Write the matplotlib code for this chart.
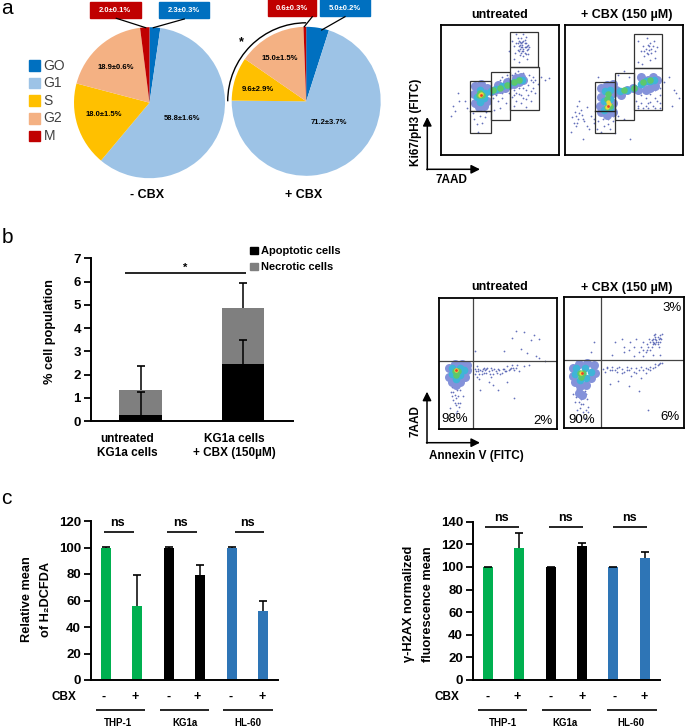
import matplotlib
matplotlib.use("Agg")
import matplotlib.pyplot as plt
from matplotlib.patches import Arc, Rectangle

W, H = 685, 728
plt.rcParams['font.family'] = ['Liberation Sans', 'DejaVu Sans']
plt.rcParams['font.weight'] = 'bold'

# panel a, pies
phases = ['GO', 'G1', 'S', 'G2', 'M']
phase_colors = ['#0070C0', '#9DC3E6', '#FFC000', '#F4B183', '#C00000']
pie_minus = [2.3, 58.8, 18.0, 18.9, 2.0]
pie_plus = [5.0, 71.2, 9.6, 15.0, 0.6]
pie_minus_txt = ['2.3±0.3%', '58.8±1.6%', '18.0±1.5%', '18.9±0.6%', '2.0±0.1%']
pie_plus_txt = ['5.0±0.2%', '71.2±3.7%', '9.6±2.9%', '15.0±1.5%', '0.6±0.3%']

# panel b, stacked bars
b_groups = ['untreated\nKG1a cells', 'KG1a cells\n+ CBX (150µM)']
apoptotic = [0.25, 2.45]
necrotic = [1.08, 2.42]
apoptotic_err = [1.0, 1.02]
total_err = [1.02, 1.05]

# panel c, bars
cell_lines = ['THP-1', 'KG1a', 'HL-60']
cbx_signs = ['-', '+', '-', '+', '-', '+']
c_colors = ['#00B050', '#00B050', '#000000', '#000000', '#2E75B6', '#2E75B6']
ros_mean = [100, 55.5, 100, 79, 100, 52]
ros_err = [0.3, 23.5, 0.3, 8, 0.3, 8]
h2ax_mean = [100, 116.5, 100, 118.5, 100, 107.5]
h2ax_err = [0.3, 13.5, 0.3, 2.5, 0.3, 5.5]

# flow plots, read in percent of each frame
ki_unt_dots = [(60,88),(62,84),(63,79),(64,86),(65,90),(65,81),(66,84),(67,77),(67,87),(68,83),(68,90),(69,80),
    (69,85),(70,88),(70,76),(71,83),(71,79),(72,86),(72,91),(73,81),(73,74),(74,85),(74,78),(75,83),(62,74),(66,72),
    (58,80),(70,93),(64,93),(66,80),(68,86),(70,82),(72,78),(66,88),(60,45),(62,50),(64,42),(66,47),(68,40),(70,44),
    (72,50),(74,46),(76,42),(78,52),(80,48),(82,55),(85,60),(88,58),(92,59),(75,62),(78,60),(62,38),(72,37),(55,40),
    (52,44),(48,42),(50,58),(56,62),(65,65),(28,28),(30,24),(33,30),(35,25),(37,29),(31,18),(27,32),(38,33),(8,30),
    (12,34),(15,42),(14,48),(10,38),(20,42),(22,36),(45,35),(50,36),(64,48),(68,46),(72,43),(76,49),(70,63),(66,61),
    (69,87),(67,82),(71,86),(65,86),(73,84),(68,79),(72,83),(70,80),(74,82),(67,85),(69,83),(71,89),(58,48),(62,46),
    (66,52),(70,52),(74,54),(78,56),(80,58),(76,58),(44,44),(47,46),(52,48),(56,50),(60,62),(63,63),(57,59),(52,60)]
ki_unt_blue = [(29,40),(32,37),(36,38),(39,42),(28,47),(29,53),(34,55),(39,52),(33,46),(42,49),(46,50),(50,51),(54,52),
    (58,54),(62,55),(66,56),(70,58),(48,54),(56,56),(64,59),(68,60)]
ki_unt_cyan = [(30,45),(33,41),(36,44),(33,50),(37,48),(42,49),(47,51),(52,53),(57,54),(62,56),(66,58),(69,58)]
ki_unt_green = [(32,46),(35,46),(33,48),(44,50),(50,52),(56,54),(62,56),(66,58)]
ki_unt_yellow = [(33,46),(34,47)]
ki_unt_red = [(33.5,46)]

ki_cbx_dots = [(62,88),(64,80),(66,84),(67,76),(68,82),(69,90),(70,78),(70,85),(71,81),(72,73),(72,86),(73,79),(74,84),
    (75,88),(76,80),(76,75),(62,72),(65,70),(78,83),(10,38),(8,33),(11,28),(7,25),(13,35),(6,29),(14,31),(9,22),(12,42),
    (16,26),(18,37),(20,20),(22,30),(18,22),(24,25),(27,20),(30,18),(33,22),(36,24),(38,20),(40,26),(45,30),(50,28),
    (62,38),(66,36),(70,40),(74,38),(78,42),(80,36),(64,46),(68,44),(72,47),(76,50),(80,52),(84,56),(88,60),(92,50),
    (94,48),(96,44),(50,65),(54,60),(45,62),(42,17),(30,45),(28,60),(55,12),(5,18),(15,12),(90,38),
    (60,42),(64,40),(68,38),(72,41),(76,44),(80,46),(62,36),(70,36),(76,36),(80,40),(9,30),(12,32),(10,25),(15,28),
    (24,28),(28,26),(32,28),(36,28),(40,30),(71,84),(69,79),(73,82),(67,80)]
ki_cbx_blue = [(30,33),(35,31),(40,33),(29,38),(40,40),(30,45),(40,48),(30,52),(35,54),(40,55),(43,50),(47,46),(52,50),
    (57,52),(62,50),(66,56),(70,58),(74,60),(78,58),(68,50),(72,52),(76,53),(64,60)]
ki_cbx_cyan = [(33,35),(38,36),(33,42),(38,43),(34,49),(38,50),(46,49),(52,50),(58,52),(64,55),(68,57),(72,57),(75,58)]
ki_cbx_green = [(35,37),(38,38),(35,43),(36,47),(50,50),(58,52),(66,56),(72,58)]
ki_cbx_yellow = [(35,37),(37,39),(36,41)]
ki_cbx_red = [(36,37.5)]

an_unt_dots = [(65,75),(62,70),(72,74),(78,68),(81,72),(85,69),(30,60),(55,60),(70,61),(75,58),(82,56),(85,54),(90,52),
    (32,48),(36,42),(40,46),(44,40),(48,44),(52,42),(56,44),(60,46),(64,45),(68,44),(72,48),(76,49),(46,34),(50,30),
    (10,28),(12,22),(14,18),(16,25),(18,20),(15,14),(9,16),(18,30),(11,32),(17,35),(13,26),(20,25),(58,36),(64,24),
    (35,30),(42,36),(34,38),(38,47),(44,47),(50,46),(54,46),(58,48),(62,49),(66,49),
    (30,46),(30,42),(31,44),(32,40),(33,46),(33,44),(34,42),(35,45),(36,44),(37,46),(38,43),(39,45),(40,43),(41,47),
    (42,44),(43,42),(45,45),(46,42),(47,46),(49,43),(51,45),(53,43),(55,46),(57,44),(59,45),(61,47),(63,47),(65,47),
    (12,28),(15,30),(14,24),(16,20),(13,20),(11,25),(17,17),(14,12),(16,32)]
an_unt_blue = [(8,40),(11,36),(14,34),(18,36),(22,40),(24,45),(8,47),(13,50),(19,50),(24,49)]
an_unt_cyan = [(11,42),(14,38),(18,41),(11,47),(18,47),(21,45)]
an_unt_green = [(13,44),(16,44),(14,41)]
an_unt_yellow = [(14,45)]
an_unt_red = [(14,45)]

an_cbx_dots = [(70,62),(72,66),(74,68),(76,64),(78,70),(80,66),(82,72),(75,71),(77,66),(79,62),(72,60),(68,58),(64,62),
    (60,68),(55,66),(48,68),(42,66),(25,66),(22,58),(40,56),(50,58),(58,55),(66,55),(74,56),(80,56),(36,47),(40,44),
    (44,46),(48,42),(52,44),(56,40),(60,42),(64,38),(68,42),(72,44),(76,47),(79,49),(82,50),(45,36),(54,32),(62,28),
    (38,34),(70,14),(12,25),(14,18),(16,12),(11,30),(17,28),(9,20),(19,22),(13,15),(20,16),(7,26),(17,8),(14,22),
    (74,66),(76,68),(78,66),(80,69),(76,72),(73,62),(69,64),(66,66),
    (32,45),(34,43),(36,46),(38,44),(40,47),(42,44),(44,43),(46,47),(48,45),(50,43),(52,47),(54,44),(56,46),(58,43),
    (60,46),(62,44),(64,47),(66,44),(68,46),(70,45),(72,47),(74,46),(76,49),(78,48),(80,50),(77,67),(79,68),(75,65),
    (73,67),(81,68),(78,64),(76,70),(74,64),(80,71),(71,68),(69,60),(66,60),(62,58),(58,62),(54,60),(50,62),
    (10,24),(12,20),(15,24),(18,26),(14,28),(16,18),(13,10),(11,14),(18,14),(20,12)]
an_cbx_blue = [(7,40),(9,35),(13,32),(18,33),(22,38),(26,42),(7,46),(12,49),(19,50),(25,48),(12,27),(15,25)]
an_cbx_cyan = [(9,41),(13,37),(18,38),(10,46),(17,46),(22,43)]
an_cbx_green = [(13,42),(16,42),(14,39)]
an_cbx_yellow = [(14,42)]
an_cbx_red = [(14.5,42)]

ki_unt_gates = [(24.7,16.7,17.6,40.3),(42.3,26.7,16.5,37.6),(58.8,34.4,24.4,33.7),(58.8,68.1,23.9,26.9)]
ki_cbx_gates = [(25.4,16.7,17,39.6),(41.8,27,16.7,36),(58.5,34.4,23.7,32.4),(58.5,66.8,23.1,26.5)]


def px_axes(left, top, right, bottom):
    return fig.add_axes([left / W, 1 - bottom / H, (right - left) / W, (bottom - top) / H])


def flow_panel(box, dots, blue, cyan, green, yellow, red):
    ax = px_axes(*box)
    ax.set_xlim(0, 100)
    ax.set_ylim(0, 100)
    ax.set_xticks([])
    ax.set_yticks([])
    ax.scatter(*zip(*dots), s=1.6, color='#3f4eaa', alpha=0.8, linewidths=0)
    ax.scatter(*zip(*blue), s=42, color='#8492da', linewidths=0)
    ax.scatter(*zip(*cyan), s=30, color='#3fb4d8', linewidths=0)
    ax.scatter(*zip(*green), s=22, color='#5cc86c', linewidths=0)
    ax.scatter(*zip(*yellow), s=10, color='#f2d83c', linewidths=0)
    ax.scatter(*zip(*red), s=4, color='#e8402a', linewidths=0)
    for s in ax.spines.values():
        s.set_linewidth(1.3)
    return ax


def bar_panel(box, means, errs, ymax, step):
    ax = px_axes(*box)
    xs = range(len(means))
    ax.bar(xs, means, width=0.32, color=c_colors)
    tops = [m + e for m, e in zip(means, errs)]
    ax.vlines(xs, means, tops, color='black', linewidth=1.1)
    ax.scatter(xs, tops, marker='_', s=30, color='black', linewidths=1.2)
    ax.set_xlim(-0.487, 5.487)
    ax.set_ylim(0, ymax)
    ax.set_yticks(range(0, ymax + 1, step))
    ax.set_xticks([])
    ax.tick_params(axis='y', length=5, width=1.3, labelsize=9.5, pad=2)
    ax.spines[['top', 'right']].set_visible(False)
    ax.spines[['left', 'bottom']].set_linewidth(1.4)
    return ax


fig = plt.figure(figsize=(W / 100, H / 100), dpi=100)

# pies
for box, vals in [((74, 27.2, 225, 178.2), pie_minus), ((231.7, 26.8, 380.7, 175.8), pie_plus)]:
    ax = px_axes(*box)
    ax.pie(vals, colors=phase_colors, startangle=90, counterclock=False, radius=1)
    ax.set_xlim(-1, 1)
    ax.set_ylim(-1, 1)

# flow
flow_panel((441.3, 25.3, 558.7, 155), ki_unt_dots, ki_unt_blue, ki_unt_cyan, ki_unt_green, ki_unt_yellow, ki_unt_red)
flow_panel((565.3, 25.3, 683.3, 155), ki_cbx_dots, ki_cbx_blue, ki_cbx_cyan, ki_cbx_green, ki_cbx_yellow, ki_cbx_red)
for i, gates in enumerate([ki_unt_gates, ki_cbx_gates]):
    ax = fig.axes[2 + i]
    for g in gates:
        ax.add_patch(Rectangle(g[:2], g[2], g[3], fill=False, edgecolor='#333333', linewidth=0.9))
    ax.plot([gates[0][0], gates[0][0] + gates[0][2]], [33.7, 33.7], color='#222222', lw=1)

ax = flow_panel((439.3, 298.3, 556.7, 429), an_unt_dots, an_unt_blue, an_unt_cyan, an_unt_green, an_unt_yellow, an_unt_red)
ax.axvline(29, color='#444444', lw=0.9)
ax.axhline(52, color='#444444', lw=0.9)
ax = flow_panel((564.3, 297.3, 684, 428), an_cbx_dots, an_cbx_blue, an_cbx_cyan, an_cbx_green, an_cbx_yellow, an_cbx_red)
ax.axvline(30.8, color='#444444', lw=0.9)
ax.axhline(51.8, color='#444444', lw=0.9)

# panel b bars
ax = px_axes(90.7, 258.3, 293, 421)
xb = [0, 1]
ax.bar(xb, apoptotic, width=0.41, color='black', label='Apoptotic cells')
ax.bar(xb, necrotic, width=0.41, bottom=apoptotic, color='#7f7f7f', label='Necrotic cells')
tops = [a + n for a, n in zip(apoptotic, necrotic)]
ends = [t + e for t, e in zip(tops, total_err)]
ends2 = [a + e for a, e in zip(apoptotic, apoptotic_err)]
ax.vlines(xb, tops, ends, color='black', linewidth=1.1)
ax.vlines(xb, apoptotic, ends2, color='black', linewidth=1.1)
ax.scatter(xb + xb, ends + ends2, marker='_', s=36, color='black', linewidths=1.2)
ax.set_xlim(-0.486, 1.488)
ax.set_ylim(0, 7)
ax.set_yticks(range(8))
ax.set_xticks([])
ax.tick_params(axis='y', length=5, width=1.3, labelsize=9.5, pad=2)
ax.spines[['top', 'right']].set_visible(False)
ax.spines[['left', 'bottom']].set_linewidth(1.4)

# panel c bars
bar_panel((90.7, 521, 278.3, 680), ros_mean, ros_err, 120, 20)
bar_panel((472.7, 521.7, 660, 680), h2ax_mean, h2ax_err, 140, 20)

# everything placed by pixel goes on one overlay
ov = fig.add_axes([0, 0, 1, 1], facecolor='none')
ov.set_xlim(0, W)
ov.set_ylim(H, 0)
ov.axis('off')


def txt(x, y, s, size=8, **kw):
    kw.setdefault('ha', 'center')
    kw.setdefault('va', 'center')
    ov.text(x, y, s, fontsize=size, **kw)


def hline(x0, x1, y, lw=1.2):
    ov.plot([x0, x1], [y, y], color='black', lw=lw, solid_capstyle='butt')


for x, y, s in [(7, 14.5, 'a'), (7, 243, 'b'), (6, 504, 'c')]:
    txt(x, y, s, size=15, weight='normal', va='baseline')

# legend of phases
for i, (name, col) in enumerate(zip(phases, phase_colors)):
    y = 60 + i * 17.65
    ov.add_patch(Rectangle((29.3, y), 11, 10.7, color=col))
    txt(43.7, y + 5.5, name, size=10, ha='left', weight='normal', color='#404040')

# pie labels
txt(181.7, 118.3, pie_minus_txt[1], size=5.5)
txt(104, 115, pie_minus_txt[2], size=5.5)
txt(115.3, 67.3, pie_minus_txt[3], size=5.5)
txt(328.7, 122.3, pie_plus_txt[1], size=5.5)
txt(258.3, 89.3, pie_plus_txt[2], size=5.5)
txt(279.7, 58.7, pie_plus_txt[3], size=5.5)
for x0, y0, x1, y1, col, s in [(90, 2.3, 140.7, 18.3, phase_colors[4], pie_minus_txt[4]),
                               (159, 2.3, 208.7, 18.3, phase_colors[0], pie_minus_txt[0]),
                               (267.7, -2, 316, 15.7, phase_colors[4], pie_plus_txt[4]),
                               (320, -2, 370, 15.7, phase_colors[0], pie_plus_txt[0])]:
    ov.add_patch(Rectangle((x0, y0), x1 - x0, y1 - y0, color=col))
    txt((x0 + x1) / 2, (max(y0, 0) + y1) / 2 + 0.5, s, size=5.5, color='white')
for xs, ys in [((116.3, 145.7), (18.3, 27.7)), ((184.3, 153.3), (19, 27.7)),
               ((312.3, 304.3), (16.7, 26.7)), ((345, 321.7), (16.7, 30))]:
    ov.plot(xs, ys, color='black', lw=0.9)
ov.add_patch(Arc((306.2, 101.3), 157, 157, theta1=180, theta2=270, color='black', lw=1))
txt(241, 42, '*', size=9)
txt(147.3, 195, '- CBX', size=9)
txt(304, 195, '+ CBX', size=9)

# flow labels
for y, x0, x1 in [(15, 500, 626.7), (287.5, 500, 626.7)]:
    txt(x0, y, 'untreated', size=9)
    txt(x1, y, '+ CBX (150 µM)', size=9)
txt(451.7, 180, '7AAD', size=8.5)
txt(415.7, 122, 'Ki67/pH3 (FITC)', size=8.5, rotation=90)
txt(476.7, 456, 'Annexin V (FITC)', size=8.5)
txt(416, 421, '7AAD', size=8.5, rotation=90)
for ay0, ay1, ax_x, ax_end in [(169.3, 117, 427.3, 480), (442.7, 391.7, 427, 480)]:
    props = dict(arrowstyle='-|>', color='black', lw=1.1, shrinkA=0, shrinkB=0, mutation_scale=13)
    ov.annotate('', xy=(ax_x, ay1), xytext=(ax_x, ay0 + 0.5), arrowprops=props)
    ov.annotate('', xy=(ax_end, ay0), xytext=(ax_x - 0.5, ay0), arrowprops=props)
for x, y, s in [(455, 419, '98%'), (542.5, 420.5, '2%'), (581.5, 420, '90%'), (670, 417.5, '6%'), (672, 308, '3%')]:
    txt(x, y, s, size=9.5, weight='normal')

# panel b text
txt(50, 332, '% cell population', size=9.2, rotation=90)
txt(127, 446, b_groups[0], size=8.5, linespacing=1.15)
txt(234.7, 446, b_groups[1], size=8.5, linespacing=1.15)
hline(125, 246, 273.3)
txt(185.3, 267.5, '*', size=8)
for y, col, s in [(250.5, 'black', 'Apoptotic cells'), (266.5, '#7f7f7f', 'Necrotic cells')]:
    ov.add_patch(Rectangle((250, y - 3.7), 7.7, 7.5, color=col))
    txt(261, y, s, size=8, ha='left')

# panel c text
txt(26.7, 599, 'Relative mean', size=9.2, rotation=90)
txt(46, 599, 'of H₂DCFDA', size=9.2, rotation=90)
txt(409, 604, 'γ-H2AX normalized', size=9.2, rotation=90)
txt(428.3, 604, 'fluorescence mean', size=9.2, rotation=90)
txt(64, 697, 'CBX', size=8.5)
txt(447, 697, 'CBX', size=8.5)
for xs, ns, ys, spans, lines, labx in [
        ([103.7, 135.3, 168.7, 197.3, 230.3, 262.3], [117.3, 180.3, 247.7], (522.7, 531.7),
         [(104.3, 133.7), (167, 196.7), (235, 264.3)], [(96, 145.3), (160, 209.3), (223.3, 272.7)], [118.3, 185, 248.3]),
        ([488, 517.3, 550.3, 582.3, 615, 644.3], [501, 565.3, 629.7], (518.3, 526.7),
         [(485.3, 519), (549, 582.7), (613.3, 646.7)], [(478, 527.3), (542, 591.3), (607.3, 656.7)], [502.7, 565.3, 631.3])]:
    for x, s in zip(xs, cbx_signs):
        txt(x, 697, s, size=9)
    for i in range(3):
        txt(ns[i], ys[0], 'ns', size=9)
        hline(spans[i][0], spans[i][1], ys[1])
        hline(lines[i][0], lines[i][1], 710)
        txt(labx[i], 723, cell_lines[i], size=7)

fig.savefig('out.png', dpi=100)
